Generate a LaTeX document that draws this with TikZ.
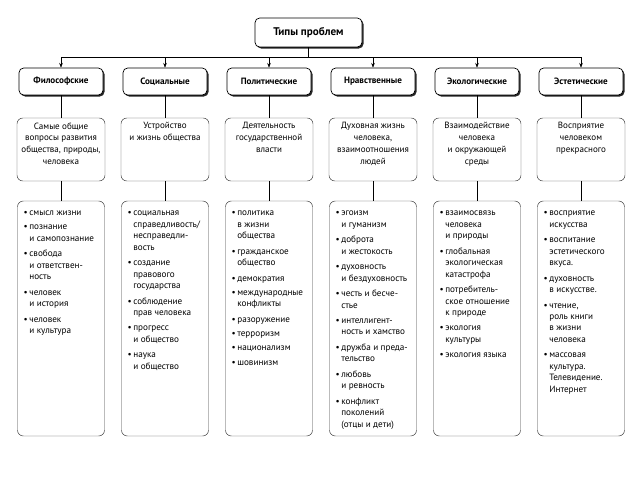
\documentclass[tikz,border=0pt]{standalone}
\usepackage{fontspec}
\setmainfont{PT Sans}
\usetikzlibrary{arrows.meta, shadows}

% one entry of a list: bullet, then lines broken by hand
\newcommand{\itm}[1]{\hspace*{3pt}\textbullet\,\begin{tabular}[t]{@{}l@{}}#1\end{tabular}\par\vspace{2.4pt}}
\newcommand{\desctext}[1]{\parbox[c][1.62cm][t]{2.55cm}{\centering #1}}
\newcommand{\listtext}[1]{\parbox[c][6.65cm][t]{2.45cm}{#1}}

\begin{document}
\begin{tikzpicture}[
    >={Stealth[length=4pt, width=3pt]},
    head/.style={draw, line width=0.6pt, rounded corners=4pt, fill=white,
        drop shadow={shadow xshift=1.3pt, shadow yshift=-1.3pt, fill=black!85, opacity=1}},
    cat/.style={head, minimum width=2.52cm, minimum height=0.81cm,
        font=\bfseries\fontsize{7.8}{9}\selectfont},
    desc/.style={draw=black!75, rounded corners=5pt, fill=white, inner sep=0pt,
        minimum width=2.64cm, minimum height=1.89cm, font=\fontsize{7.7}{10.2}\selectfont},
    list/.style={draw=black!75, rounded corners=5pt, fill=white, inner sep=0pt,
        minimum width=2.61cm, minimum height=7.05cm, font=\fontsize{7.8}{9.8}\selectfont}
]
    \useasboundingbox (0, 0) rectangle (19.2, 14.4);

    % The root
    \node[head, minimum width=3.21cm, minimum height=0.87cm,
        font=\bfseries\fontsize{9.5}{11}\selectfont] (types) at (9.255, 13.425) {Типы проблем};
    \coordinate (bus) at (9.255, 12.675);

    % The six kinds of problems
    \node[cat] (philo) at (1.83, 11.955) {Философские};
    \node[cat] (social) at (4.95, 11.955) {Социальные};
    \node[cat] (polit) at (8.07, 11.955) {Политические};
    \node[cat] (moral) at (11.19, 11.955) {Нравственные};
    \node[cat] (eco) at (14.31, 11.955) {Экологические};
    \node[cat] (aesth) at (17.43, 11.955) {Эстетические};

    \draw[->] (types.south) -- (bus) -| (philo.north);
    \draw[->] (types.south) -- (bus) -| (social.north);
    \draw[->] (types.south) -- (bus) -| (polit.north);
    \draw[->] (types.south) -- (bus) -| (moral.north);
    \draw[->] (types.south) -- (bus) -| (eco.north);
    \draw[->] (types.south) -- (bus) -| (aesth.north);

    % What each kind is about
    \node[desc] (philo-d) at (1.83, 9.915) {\desctext{Самые общие\\вопросы развития\\общества, природы,\\человека}};
    \node[desc] (social-d) at (4.95, 9.915) {\desctext{Устройство\\и жизнь общества}};
    \node[desc] (polit-d) at (8.07, 9.915) {\desctext{Деятельность\\государственной\\власти}};
    \node[desc] (moral-d) at (11.19, 9.915) {\desctext{Духовная жизнь\\человека,\\взаимоотношения\\людей}};
    \node[desc] (eco-d) at (14.31, 9.915) {\desctext{Взаимодействие\\человека\\и окружающей\\среды}};
    \node[desc] (aesth-d) at (17.43, 9.915) {\desctext{Восприятие\\человеком\\прекрасного}};

    % Lists of problems
    \node[list] (philo-l) at (1.83, 4.845) {\listtext{
        \itm{смысл жизни}
        \itm{познание\\и самопознание}
        \itm{свобода\\и ответствен-\\ность}
        \itm{человек\\и история}
        \itm{человек\\и культура}}};
    \node[list] (social-l) at (4.95, 4.845) {\listtext{
        \itm{социальная\\справедливость/\\несправедли-\\вость}
        \itm{создание\\правового\\государства}
        \itm{соблюдение\\прав человека}
        \itm{прогресс\\и общество}
        \itm{наука\\и общество}}};
    \node[list] (polit-l) at (8.07, 4.845) {\listtext{
        \itm{политика\\в жизни\\общества}
        \itm{гражданское\\общество}
        \itm{демократия}
        \itm{международные\\конфликты}
        \itm{разоружение}
        \itm{терроризм}
        \itm{национализм}
        \itm{шовинизм}}};
    \node[list] (moral-l) at (11.19, 4.845) {\listtext{
        \itm{эгоизм\\и гуманизм}
        \itm{доброта\\и жестокость}
        \itm{духовность\\и бездуховность}
        \itm{честь и бесче-\\стье}
        \itm{интеллигент-\\ность и хамство}
        \itm{дружба и преда-\\тельство}
        \itm{любовь\\и ревность}
        \itm{конфликт\\поколений\\(отцы и дети)}}};
    \node[list] (eco-l) at (14.31, 4.845) {\listtext{
        \itm{взаимосвязь\\человека\\и природы}
        \itm{глобальная\\экологическая\\катастрофа}
        \itm{потребитель-\\ское отношение\\к природе}
        \itm{экология\\культуры}
        \itm{экология языка}}};
    \node[list] (aesth-l) at (17.43, 4.845) {\listtext{
        \itm{восприятие\\искусства}
        \itm{воспитание\\эстетического\\вкуса.}
        \itm{духовность\\в искусстве.}
        \itm{чтение,\\роль книги\\в жизни\\человека}
        \itm{массовая\\культура.\\Телевидение.\\Интернет}}};

    % Links down each column
    \draw (philo) -- (philo-d);
    \draw (social) -- (social-d);
    \draw (polit) -- (polit-d);
    \draw (moral) -- (moral-d);
    \draw (eco) -- (eco-d);
    \draw (aesth) -- (aesth-d);
    \draw (philo-d) -- (philo-l);
    \draw (social-d) -- (social-l);
    \draw (polit-d) -- (polit-l);
    \draw (moral-d) -- (moral-l);
    \draw (eco-d) -- (eco-l);
    \draw (aesth-d) -- (aesth-l);
\end{tikzpicture}
\end{document}
